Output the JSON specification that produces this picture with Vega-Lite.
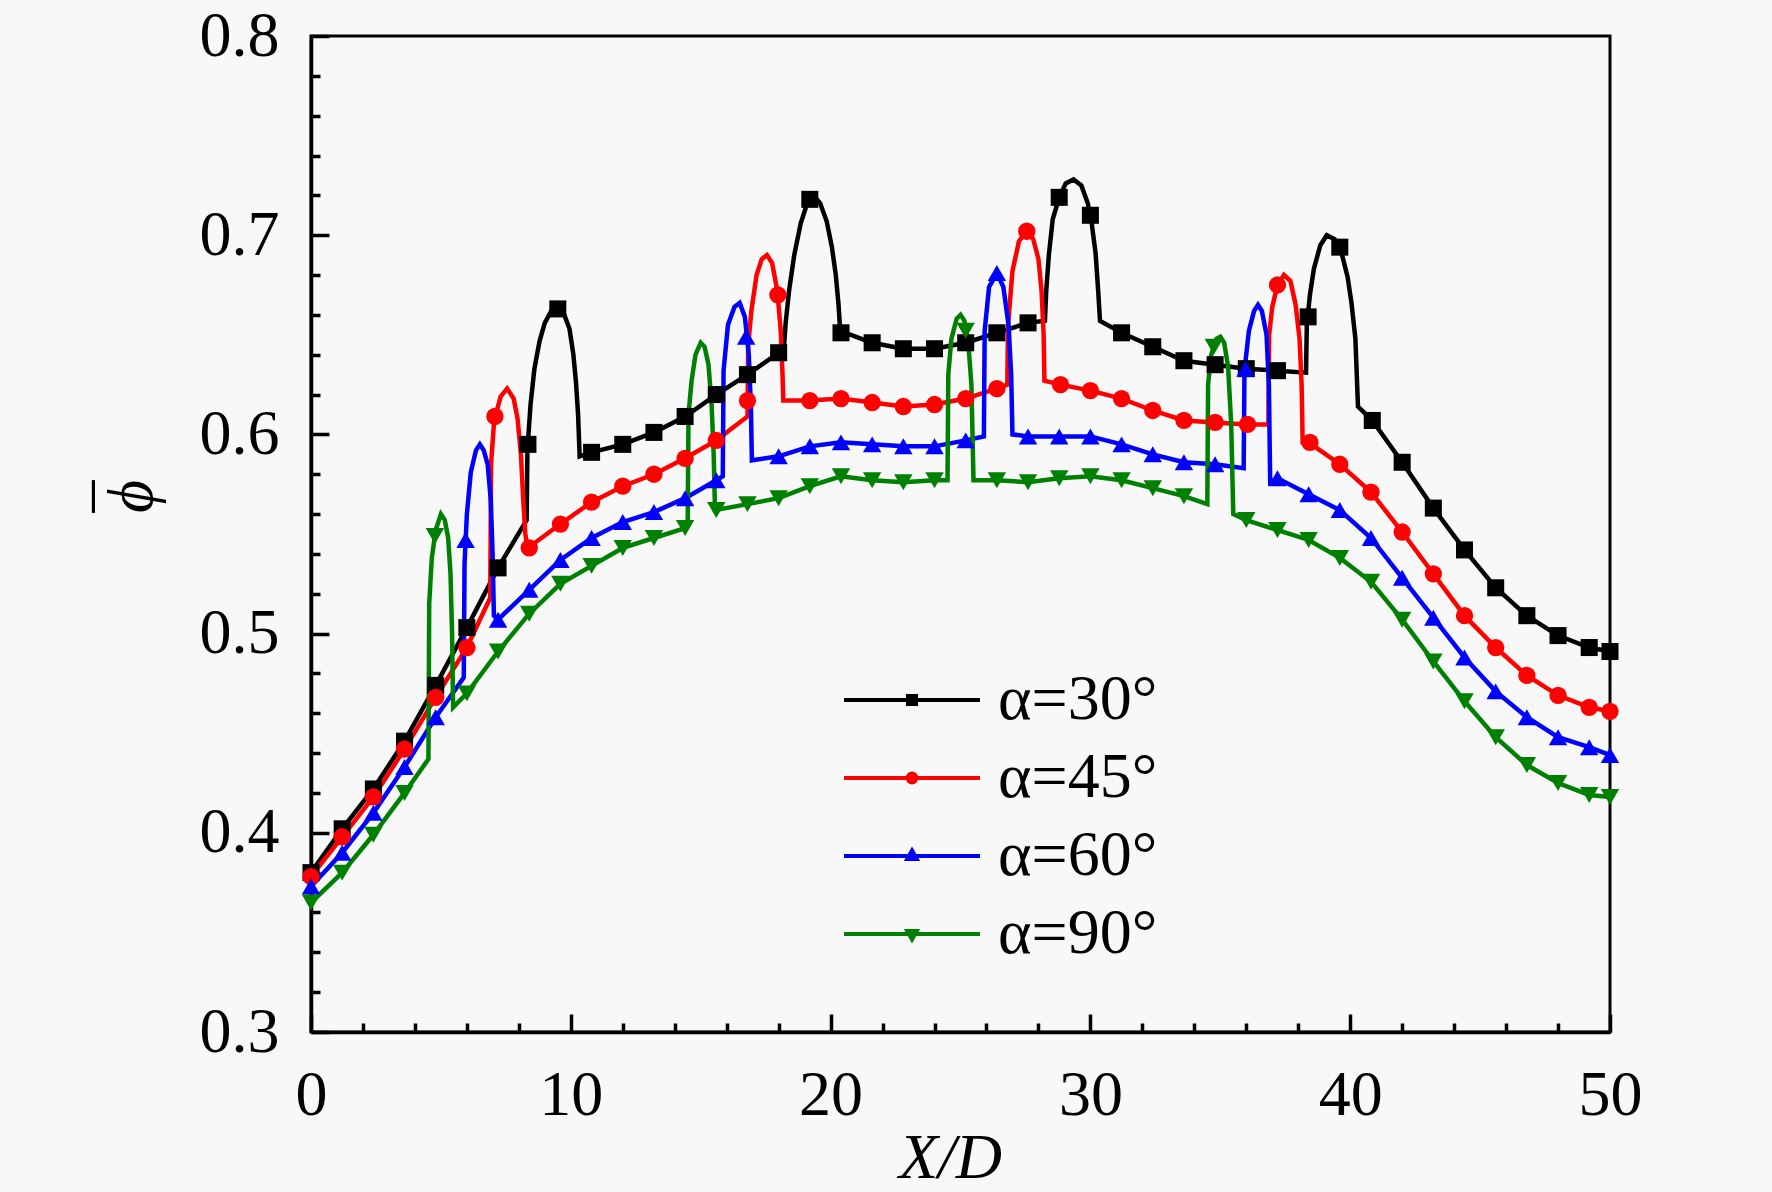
{
  "$schema": "https://vega.github.io/schema/vega-lite/v6.json",
  "width": 1299,
  "height": 996,
  "autosize": {"type": "none"},
  "padding": {"left": 311, "top": 36, "right": 162, "bottom": 160},
  "background": "#f8f8f8",
  "config": {
    "view": {"stroke": "black", "strokeWidth": 3},
    "font": "Liberation Serif"
  },
  "datasets": {
    "lines": [
      {"alpha": "α=30°", "x": 0, "phi": 0.380}, {"alpha": "α=30°", "x": 1.2, "phi": 0.402}, {"alpha": "α=30°", "x": 2.4, "phi": 0.422},
      {"alpha": "α=30°", "x": 3.6, "phi": 0.446}, {"alpha": "α=30°", "x": 4.8, "phi": 0.474}, {"alpha": "α=30°", "x": 6.0, "phi": 0.503},
      {"alpha": "α=30°", "x": 7.2, "phi": 0.533}, {"alpha": "α=30°", "x": 8.3, "phi": 0.557}, {"alpha": "α=30°", "x": 8.33, "phi": 0.592},
      {"alpha": "α=30°", "x": 8.45, "phi": 0.615}, {"alpha": "α=30°", "x": 8.6, "phi": 0.633}, {"alpha": "α=30°", "x": 8.8, "phi": 0.647},
      {"alpha": "α=30°", "x": 9.0, "phi": 0.656}, {"alpha": "α=30°", "x": 9.25, "phi": 0.662}, {"alpha": "α=30°", "x": 9.5, "phi": 0.663},
      {"alpha": "α=30°", "x": 9.75, "phi": 0.660}, {"alpha": "α=30°", "x": 9.95, "phi": 0.653}, {"alpha": "α=30°", "x": 10.1, "phi": 0.640},
      {"alpha": "α=30°", "x": 10.2, "phi": 0.626}, {"alpha": "α=30°", "x": 10.28, "phi": 0.610}, {"alpha": "α=30°", "x": 10.34, "phi": 0.589},
      {"alpha": "α=30°", "x": 10.8, "phi": 0.591}, {"alpha": "α=30°", "x": 12.0, "phi": 0.595}, {"alpha": "α=30°", "x": 13.2, "phi": 0.601},
      {"alpha": "α=30°", "x": 14.4, "phi": 0.609}, {"alpha": "α=30°", "x": 15.6, "phi": 0.620}, {"alpha": "α=30°", "x": 16.8, "phi": 0.630},
      {"alpha": "α=30°", "x": 18.0, "phi": 0.641}, {"alpha": "α=30°", "x": 18.2, "phi": 0.643}, {"alpha": "α=30°", "x": 18.27, "phi": 0.656},
      {"alpha": "α=30°", "x": 18.4, "phi": 0.672}, {"alpha": "α=30°", "x": 18.6, "phi": 0.690}, {"alpha": "α=30°", "x": 18.85, "phi": 0.706},
      {"alpha": "α=30°", "x": 19.1, "phi": 0.716}, {"alpha": "α=30°", "x": 19.35, "phi": 0.720}, {"alpha": "α=30°", "x": 19.6, "phi": 0.716},
      {"alpha": "α=30°", "x": 19.85, "phi": 0.707}, {"alpha": "α=30°", "x": 20.05, "phi": 0.694}, {"alpha": "α=30°", "x": 20.2, "phi": 0.680},
      {"alpha": "α=30°", "x": 20.3, "phi": 0.666}, {"alpha": "α=30°", "x": 20.37, "phi": 0.652}, {"alpha": "α=30°", "x": 21.6, "phi": 0.646},
      {"alpha": "α=30°", "x": 22.8, "phi": 0.643}, {"alpha": "α=30°", "x": 24.0, "phi": 0.643}, {"alpha": "α=30°", "x": 25.2, "phi": 0.646},
      {"alpha": "α=30°", "x": 26.4, "phi": 0.651}, {"alpha": "α=30°", "x": 27.6, "phi": 0.656}, {"alpha": "α=30°", "x": 28.25, "phi": 0.657},
      {"alpha": "α=30°", "x": 28.3, "phi": 0.672}, {"alpha": "α=30°", "x": 28.4, "phi": 0.690}, {"alpha": "α=30°", "x": 28.55, "phi": 0.708},
      {"alpha": "α=30°", "x": 28.8, "phi": 0.719}, {"alpha": "α=30°", "x": 29.05, "phi": 0.726}, {"alpha": "α=30°", "x": 29.35, "phi": 0.728},
      {"alpha": "α=30°", "x": 29.65, "phi": 0.725}, {"alpha": "α=30°", "x": 29.9, "phi": 0.716}, {"alpha": "α=30°", "x": 30.05, "phi": 0.706},
      {"alpha": "α=30°", "x": 30.2, "phi": 0.691}, {"alpha": "α=30°", "x": 30.3, "phi": 0.672}, {"alpha": "α=30°", "x": 30.37, "phi": 0.657},
      {"alpha": "α=30°", "x": 31.2, "phi": 0.651}, {"alpha": "α=30°", "x": 32.4, "phi": 0.644}, {"alpha": "α=30°", "x": 33.6, "phi": 0.637},
      {"alpha": "α=30°", "x": 34.8, "phi": 0.635}, {"alpha": "α=30°", "x": 36.0, "phi": 0.633}, {"alpha": "α=30°", "x": 37.2, "phi": 0.632},
      {"alpha": "α=30°", "x": 38.3, "phi": 0.631}, {"alpha": "α=30°", "x": 38.33, "phi": 0.655}, {"alpha": "α=30°", "x": 38.45, "phi": 0.670},
      {"alpha": "α=30°", "x": 38.6, "phi": 0.683}, {"alpha": "α=30°", "x": 38.85, "phi": 0.695}, {"alpha": "α=30°", "x": 39.1, "phi": 0.700},
      {"alpha": "α=30°", "x": 39.4, "phi": 0.698}, {"alpha": "α=30°", "x": 39.65, "phi": 0.692}, {"alpha": "α=30°", "x": 39.9, "phi": 0.679},
      {"alpha": "α=30°", "x": 40.05, "phi": 0.666}, {"alpha": "α=30°", "x": 40.2, "phi": 0.648}, {"alpha": "α=30°", "x": 40.3, "phi": 0.614},
      {"alpha": "α=30°", "x": 40.85, "phi": 0.607}, {"alpha": "α=30°", "x": 42.0, "phi": 0.586}, {"alpha": "α=30°", "x": 43.2, "phi": 0.563},
      {"alpha": "α=30°", "x": 44.4, "phi": 0.542}, {"alpha": "α=30°", "x": 45.6, "phi": 0.523}, {"alpha": "α=30°", "x": 46.8, "phi": 0.509},
      {"alpha": "α=30°", "x": 48.0, "phi": 0.499}, {"alpha": "α=30°", "x": 49.2, "phi": 0.493}, {"alpha": "α=30°", "x": 50.0, "phi": 0.491},

      {"alpha": "α=45°", "x": 0, "phi": 0.378}, {"alpha": "α=45°", "x": 1.2, "phi": 0.398}, {"alpha": "α=45°", "x": 2.4, "phi": 0.418},
      {"alpha": "α=45°", "x": 3.6, "phi": 0.442}, {"alpha": "α=45°", "x": 4.8, "phi": 0.468}, {"alpha": "α=45°", "x": 6.0, "phi": 0.493},
      {"alpha": "α=45°", "x": 6.9, "phi": 0.518}, {"alpha": "α=45°", "x": 6.93, "phi": 0.585}, {"alpha": "α=45°", "x": 7.05, "phi": 0.607},
      {"alpha": "α=45°", "x": 7.3, "phi": 0.619}, {"alpha": "α=45°", "x": 7.55, "phi": 0.623}, {"alpha": "α=45°", "x": 7.8, "phi": 0.618},
      {"alpha": "α=45°", "x": 7.95, "phi": 0.608}, {"alpha": "α=45°", "x": 8.08, "phi": 0.590}, {"alpha": "α=45°", "x": 8.17, "phi": 0.567},
      {"alpha": "α=45°", "x": 8.25, "phi": 0.550}, {"alpha": "α=45°", "x": 8.35, "phi": 0.542}, {"alpha": "α=45°", "x": 8.45, "phi": 0.544},
      {"alpha": "α=45°", "x": 9.6, "phi": 0.555}, {"alpha": "α=45°", "x": 10.8, "phi": 0.566}, {"alpha": "α=45°", "x": 12.0, "phi": 0.574},
      {"alpha": "α=45°", "x": 13.2, "phi": 0.580}, {"alpha": "α=45°", "x": 14.4, "phi": 0.588}, {"alpha": "α=45°", "x": 15.6, "phi": 0.597},
      {"alpha": "α=45°", "x": 16.8, "phi": 0.609}, {"alpha": "α=45°", "x": 16.83, "phi": 0.645}, {"alpha": "α=45°", "x": 16.95, "phi": 0.662},
      {"alpha": "α=45°", "x": 17.15, "phi": 0.680}, {"alpha": "α=45°", "x": 17.35, "phi": 0.688}, {"alpha": "α=45°", "x": 17.55, "phi": 0.690},
      {"alpha": "α=45°", "x": 17.75, "phi": 0.686}, {"alpha": "α=45°", "x": 17.95, "phi": 0.672}, {"alpha": "α=45°", "x": 18.08, "phi": 0.652},
      {"alpha": "α=45°", "x": 18.15, "phi": 0.630}, {"alpha": "α=45°", "x": 18.18, "phi": 0.617}, {"alpha": "α=45°", "x": 19.2, "phi": 0.617},
      {"alpha": "α=45°", "x": 20.4, "phi": 0.618}, {"alpha": "α=45°", "x": 21.6, "phi": 0.616}, {"alpha": "α=45°", "x": 22.8, "phi": 0.614},
      {"alpha": "α=45°", "x": 24.0, "phi": 0.615}, {"alpha": "α=45°", "x": 25.2, "phi": 0.618}, {"alpha": "α=45°", "x": 26.4, "phi": 0.623},
      {"alpha": "α=45°", "x": 26.8, "phi": 0.625}, {"alpha": "α=45°", "x": 26.83, "phi": 0.655}, {"alpha": "α=45°", "x": 27.0, "phi": 0.682},
      {"alpha": "α=45°", "x": 27.25, "phi": 0.697}, {"alpha": "α=45°", "x": 27.55, "phi": 0.702}, {"alpha": "α=45°", "x": 27.8, "phi": 0.698},
      {"alpha": "α=45°", "x": 28.0, "phi": 0.688}, {"alpha": "α=45°", "x": 28.12, "phi": 0.672}, {"alpha": "α=45°", "x": 28.2, "phi": 0.650},
      {"alpha": "α=45°", "x": 28.23, "phi": 0.627}, {"alpha": "α=45°", "x": 28.85, "phi": 0.625}, {"alpha": "α=45°", "x": 30.0, "phi": 0.622},
      {"alpha": "α=45°", "x": 31.2, "phi": 0.618}, {"alpha": "α=45°", "x": 32.4, "phi": 0.612}, {"alpha": "α=45°", "x": 33.6, "phi": 0.607},
      {"alpha": "α=45°", "x": 34.8, "phi": 0.606}, {"alpha": "α=45°", "x": 36.0, "phi": 0.605}, {"alpha": "α=45°", "x": 36.85, "phi": 0.605},
      {"alpha": "α=45°", "x": 36.88, "phi": 0.650}, {"alpha": "α=45°", "x": 37.0, "phi": 0.664}, {"alpha": "α=45°", "x": 37.2, "phi": 0.675},
      {"alpha": "α=45°", "x": 37.45, "phi": 0.680}, {"alpha": "α=45°", "x": 37.7, "phi": 0.677}, {"alpha": "α=45°", "x": 37.9, "phi": 0.665},
      {"alpha": "α=45°", "x": 38.05, "phi": 0.648}, {"alpha": "α=45°", "x": 38.13, "phi": 0.625}, {"alpha": "α=45°", "x": 38.17, "phi": 0.596},
      {"alpha": "α=45°", "x": 38.4, "phi": 0.596}, {"alpha": "α=45°", "x": 39.6, "phi": 0.585}, {"alpha": "α=45°", "x": 40.8, "phi": 0.571},
      {"alpha": "α=45°", "x": 42.0, "phi": 0.551}, {"alpha": "α=45°", "x": 43.2, "phi": 0.530}, {"alpha": "α=45°", "x": 44.4, "phi": 0.509},
      {"alpha": "α=45°", "x": 45.6, "phi": 0.493}, {"alpha": "α=45°", "x": 46.8, "phi": 0.479}, {"alpha": "α=45°", "x": 48.0, "phi": 0.469},
      {"alpha": "α=45°", "x": 49.2, "phi": 0.463}, {"alpha": "α=45°", "x": 50.0, "phi": 0.461},

      {"alpha": "α=60°", "x": 0, "phi": 0.373}, {"alpha": "α=60°", "x": 1.2, "phi": 0.390}, {"alpha": "α=60°", "x": 2.4, "phi": 0.410},
      {"alpha": "α=60°", "x": 3.6, "phi": 0.433}, {"alpha": "α=60°", "x": 4.8, "phi": 0.458}, {"alpha": "α=60°", "x": 5.88, "phi": 0.478},
      {"alpha": "α=60°", "x": 5.91, "phi": 0.535}, {"alpha": "α=60°", "x": 6.0, "phi": 0.560}, {"alpha": "α=60°", "x": 6.15, "phi": 0.581},
      {"alpha": "α=60°", "x": 6.35, "phi": 0.592}, {"alpha": "α=60°", "x": 6.5, "phi": 0.595}, {"alpha": "α=60°", "x": 6.65, "phi": 0.592},
      {"alpha": "α=60°", "x": 6.8, "phi": 0.585}, {"alpha": "α=60°", "x": 6.92, "phi": 0.567}, {"alpha": "α=60°", "x": 6.99, "phi": 0.540},
      {"alpha": "α=60°", "x": 7.04, "phi": 0.509}, {"alpha": "α=60°", "x": 7.2, "phi": 0.507}, {"alpha": "α=60°", "x": 8.4, "phi": 0.522},
      {"alpha": "α=60°", "x": 9.6, "phi": 0.537}, {"alpha": "α=60°", "x": 10.8, "phi": 0.548}, {"alpha": "α=60°", "x": 12.0, "phi": 0.556},
      {"alpha": "α=60°", "x": 13.2, "phi": 0.561}, {"alpha": "α=60°", "x": 14.4, "phi": 0.568}, {"alpha": "α=60°", "x": 15.6, "phi": 0.577},
      {"alpha": "α=60°", "x": 15.85, "phi": 0.579}, {"alpha": "α=60°", "x": 15.88, "phi": 0.632}, {"alpha": "α=60°", "x": 16.05, "phi": 0.655},
      {"alpha": "α=60°", "x": 16.3, "phi": 0.664}, {"alpha": "α=60°", "x": 16.5, "phi": 0.666}, {"alpha": "α=60°", "x": 16.7, "phi": 0.659},
      {"alpha": "α=60°", "x": 16.85, "phi": 0.640}, {"alpha": "α=60°", "x": 16.93, "phi": 0.615}, {"alpha": "α=60°", "x": 16.97, "phi": 0.587},
      {"alpha": "α=60°", "x": 18.0, "phi": 0.589}, {"alpha": "α=60°", "x": 19.2, "phi": 0.594}, {"alpha": "α=60°", "x": 20.4, "phi": 0.596},
      {"alpha": "α=60°", "x": 21.6, "phi": 0.595}, {"alpha": "α=60°", "x": 22.8, "phi": 0.594}, {"alpha": "α=60°", "x": 24.0, "phi": 0.594},
      {"alpha": "α=60°", "x": 25.2, "phi": 0.597}, {"alpha": "α=60°", "x": 25.9, "phi": 0.599}, {"alpha": "α=60°", "x": 25.93, "phi": 0.652},
      {"alpha": "α=60°", "x": 26.1, "phi": 0.674}, {"alpha": "α=60°", "x": 26.4, "phi": 0.681}, {"alpha": "α=60°", "x": 26.65, "phi": 0.674},
      {"alpha": "α=60°", "x": 26.85, "phi": 0.655}, {"alpha": "α=60°", "x": 26.95, "phi": 0.630}, {"alpha": "α=60°", "x": 27.0, "phi": 0.600},
      {"alpha": "α=60°", "x": 27.6, "phi": 0.599}, {"alpha": "α=60°", "x": 28.8, "phi": 0.599}, {"alpha": "α=60°", "x": 30.0, "phi": 0.599},
      {"alpha": "α=60°", "x": 31.2, "phi": 0.595}, {"alpha": "α=60°", "x": 32.4, "phi": 0.590}, {"alpha": "α=60°", "x": 33.6, "phi": 0.586},
      {"alpha": "α=60°", "x": 34.8, "phi": 0.585}, {"alpha": "α=60°", "x": 35.9, "phi": 0.583}, {"alpha": "α=60°", "x": 35.93, "phi": 0.632},
      {"alpha": "α=60°", "x": 36.1, "phi": 0.652}, {"alpha": "α=60°", "x": 36.3, "phi": 0.662}, {"alpha": "α=60°", "x": 36.45, "phi": 0.665},
      {"alpha": "α=60°", "x": 36.6, "phi": 0.662}, {"alpha": "α=60°", "x": 36.78, "phi": 0.650}, {"alpha": "α=60°", "x": 36.87, "phi": 0.625},
      {"alpha": "α=60°", "x": 36.92, "phi": 0.576}, {"alpha": "α=60°", "x": 37.2, "phi": 0.578}, {"alpha": "α=60°", "x": 38.4, "phi": 0.570},
      {"alpha": "α=60°", "x": 39.6, "phi": 0.562}, {"alpha": "α=60°", "x": 40.8, "phi": 0.548}, {"alpha": "α=60°", "x": 42.0, "phi": 0.528},
      {"alpha": "α=60°", "x": 43.2, "phi": 0.508}, {"alpha": "α=60°", "x": 44.4, "phi": 0.488}, {"alpha": "α=60°", "x": 45.6, "phi": 0.471},
      {"alpha": "α=60°", "x": 46.8, "phi": 0.458}, {"alpha": "α=60°", "x": 48.0, "phi": 0.448}, {"alpha": "α=60°", "x": 49.2, "phi": 0.443},
      {"alpha": "α=60°", "x": 50.0, "phi": 0.439},

      {"alpha": "α=90°", "x": 0, "phi": 0.365}, {"alpha": "α=90°", "x": 1.2, "phi": 0.380}, {"alpha": "α=90°", "x": 2.4, "phi": 0.399},
      {"alpha": "α=90°", "x": 3.6, "phi": 0.420}, {"alpha": "α=90°", "x": 4.52, "phi": 0.437}, {"alpha": "α=90°", "x": 4.55, "phi": 0.515},
      {"alpha": "α=90°", "x": 4.65, "phi": 0.538}, {"alpha": "α=90°", "x": 4.8, "phi": 0.552}, {"alpha": "α=90°", "x": 5.0, "phi": 0.560},
      {"alpha": "α=90°", "x": 5.15, "phi": 0.557}, {"alpha": "α=90°", "x": 5.28, "phi": 0.548}, {"alpha": "α=90°", "x": 5.37, "phi": 0.530},
      {"alpha": "α=90°", "x": 5.43, "phi": 0.500}, {"alpha": "α=90°", "x": 5.47, "phi": 0.463}, {"alpha": "α=90°", "x": 6.0, "phi": 0.470},
      {"alpha": "α=90°", "x": 7.2, "phi": 0.491}, {"alpha": "α=90°", "x": 8.4, "phi": 0.510}, {"alpha": "α=90°", "x": 9.6, "phi": 0.525},
      {"alpha": "α=90°", "x": 10.8, "phi": 0.534}, {"alpha": "α=90°", "x": 12.0, "phi": 0.543}, {"alpha": "α=90°", "x": 13.2, "phi": 0.548},
      {"alpha": "α=90°", "x": 14.4, "phi": 0.553}, {"alpha": "α=90°", "x": 14.5, "phi": 0.555}, {"alpha": "α=90°", "x": 14.53, "phi": 0.610},
      {"alpha": "α=90°", "x": 14.65, "phi": 0.627}, {"alpha": "α=90°", "x": 14.8, "phi": 0.640}, {"alpha": "α=90°", "x": 15.0, "phi": 0.646},
      {"alpha": "α=90°", "x": 15.15, "phi": 0.644}, {"alpha": "α=90°", "x": 15.3, "phi": 0.635}, {"alpha": "α=90°", "x": 15.42, "phi": 0.615},
      {"alpha": "α=90°", "x": 15.5, "phi": 0.590}, {"alpha": "α=90°", "x": 15.55, "phi": 0.562}, {"alpha": "α=90°", "x": 16.8, "phi": 0.565},
      {"alpha": "α=90°", "x": 18.0, "phi": 0.568}, {"alpha": "α=90°", "x": 19.2, "phi": 0.574}, {"alpha": "α=90°", "x": 20.4, "phi": 0.579},
      {"alpha": "α=90°", "x": 21.6, "phi": 0.577}, {"alpha": "α=90°", "x": 22.8, "phi": 0.576}, {"alpha": "α=90°", "x": 24.0, "phi": 0.577},
      {"alpha": "α=90°", "x": 24.5, "phi": 0.577}, {"alpha": "α=90°", "x": 24.53, "phi": 0.630}, {"alpha": "α=90°", "x": 24.65, "phi": 0.648},
      {"alpha": "α=90°", "x": 24.85, "phi": 0.658}, {"alpha": "α=90°", "x": 25.0, "phi": 0.660}, {"alpha": "α=90°", "x": 25.15, "phi": 0.657},
      {"alpha": "α=90°", "x": 25.3, "phi": 0.646}, {"alpha": "α=90°", "x": 25.42, "phi": 0.625}, {"alpha": "α=90°", "x": 25.5, "phi": 0.577},
      {"alpha": "α=90°", "x": 26.4, "phi": 0.577}, {"alpha": "α=90°", "x": 27.6, "phi": 0.576}, {"alpha": "α=90°", "x": 28.8, "phi": 0.578},
      {"alpha": "α=90°", "x": 30.0, "phi": 0.579}, {"alpha": "α=90°", "x": 31.2, "phi": 0.577}, {"alpha": "α=90°", "x": 32.4, "phi": 0.573},
      {"alpha": "α=90°", "x": 33.6, "phi": 0.569}, {"alpha": "α=90°", "x": 34.5, "phi": 0.565}, {"alpha": "α=90°", "x": 34.53, "phi": 0.625},
      {"alpha": "α=90°", "x": 34.65, "phi": 0.640}, {"alpha": "α=90°", "x": 34.85, "phi": 0.648}, {"alpha": "α=90°", "x": 35.0, "phi": 0.649},
      {"alpha": "α=90°", "x": 35.15, "phi": 0.646}, {"alpha": "α=90°", "x": 35.3, "phi": 0.634}, {"alpha": "α=90°", "x": 35.42, "phi": 0.605},
      {"alpha": "α=90°", "x": 35.5, "phi": 0.560}, {"alpha": "α=90°", "x": 36.0, "phi": 0.557}, {"alpha": "α=90°", "x": 37.2, "phi": 0.552},
      {"alpha": "α=90°", "x": 38.4, "phi": 0.547}, {"alpha": "α=90°", "x": 39.6, "phi": 0.538}, {"alpha": "α=90°", "x": 40.8, "phi": 0.526},
      {"alpha": "α=90°", "x": 42.0, "phi": 0.507}, {"alpha": "α=90°", "x": 43.2, "phi": 0.486}, {"alpha": "α=90°", "x": 44.4, "phi": 0.466},
      {"alpha": "α=90°", "x": 45.6, "phi": 0.448}, {"alpha": "α=90°", "x": 46.8, "phi": 0.434}, {"alpha": "α=90°", "x": 48.0, "phi": 0.425},
      {"alpha": "α=90°", "x": 49.2, "phi": 0.419}, {"alpha": "α=90°", "x": 50.0, "phi": 0.418}
    ],
    "markers": [
      {"alpha": "α=30°", "x": 0, "phi": 0.380}, {"alpha": "α=30°", "x": 1.2, "phi": 0.402}, {"alpha": "α=30°", "x": 2.4, "phi": 0.422},
      {"alpha": "α=30°", "x": 3.6, "phi": 0.446}, {"alpha": "α=30°", "x": 4.8, "phi": 0.474}, {"alpha": "α=30°", "x": 6.0, "phi": 0.503},
      {"alpha": "α=30°", "x": 7.2, "phi": 0.533}, {"alpha": "α=30°", "x": 8.35, "phi": 0.595}, {"alpha": "α=30°", "x": 9.5, "phi": 0.663},
      {"alpha": "α=30°", "x": 10.8, "phi": 0.591}, {"alpha": "α=30°", "x": 12.0, "phi": 0.595}, {"alpha": "α=30°", "x": 13.2, "phi": 0.601},
      {"alpha": "α=30°", "x": 14.4, "phi": 0.609}, {"alpha": "α=30°", "x": 15.6, "phi": 0.620}, {"alpha": "α=30°", "x": 16.8, "phi": 0.630},
      {"alpha": "α=30°", "x": 18.0, "phi": 0.641}, {"alpha": "α=30°", "x": 19.2, "phi": 0.718}, {"alpha": "α=30°", "x": 20.4, "phi": 0.651},
      {"alpha": "α=30°", "x": 21.6, "phi": 0.646}, {"alpha": "α=30°", "x": 22.8, "phi": 0.643}, {"alpha": "α=30°", "x": 24.0, "phi": 0.643},
      {"alpha": "α=30°", "x": 25.2, "phi": 0.646}, {"alpha": "α=30°", "x": 26.4, "phi": 0.651}, {"alpha": "α=30°", "x": 27.6, "phi": 0.656},
      {"alpha": "α=30°", "x": 28.8, "phi": 0.719}, {"alpha": "α=30°", "x": 30.0, "phi": 0.710}, {"alpha": "α=30°", "x": 31.2, "phi": 0.651},
      {"alpha": "α=30°", "x": 32.4, "phi": 0.644}, {"alpha": "α=30°", "x": 33.6, "phi": 0.637}, {"alpha": "α=30°", "x": 34.8, "phi": 0.635},
      {"alpha": "α=30°", "x": 36.0, "phi": 0.633}, {"alpha": "α=30°", "x": 37.2, "phi": 0.632}, {"alpha": "α=30°", "x": 38.38, "phi": 0.659},
      {"alpha": "α=30°", "x": 39.6, "phi": 0.694}, {"alpha": "α=30°", "x": 40.85, "phi": 0.607}, {"alpha": "α=30°", "x": 42.0, "phi": 0.586},
      {"alpha": "α=30°", "x": 43.2, "phi": 0.563}, {"alpha": "α=30°", "x": 44.4, "phi": 0.542}, {"alpha": "α=30°", "x": 45.6, "phi": 0.523},
      {"alpha": "α=30°", "x": 46.8, "phi": 0.509}, {"alpha": "α=30°", "x": 48.0, "phi": 0.499}, {"alpha": "α=30°", "x": 49.2, "phi": 0.493},
      {"alpha": "α=30°", "x": 50.0, "phi": 0.491},

      {"alpha": "α=45°", "x": 0, "phi": 0.378}, {"alpha": "α=45°", "x": 1.2, "phi": 0.398}, {"alpha": "α=45°", "x": 2.4, "phi": 0.418},
      {"alpha": "α=45°", "x": 3.6, "phi": 0.442}, {"alpha": "α=45°", "x": 4.8, "phi": 0.468}, {"alpha": "α=45°", "x": 6.0, "phi": 0.493},
      {"alpha": "α=45°", "x": 7.08, "phi": 0.609}, {"alpha": "α=45°", "x": 8.4, "phi": 0.543}, {"alpha": "α=45°", "x": 9.6, "phi": 0.555},
      {"alpha": "α=45°", "x": 10.8, "phi": 0.566}, {"alpha": "α=45°", "x": 12.0, "phi": 0.574}, {"alpha": "α=45°", "x": 13.2, "phi": 0.580},
      {"alpha": "α=45°", "x": 14.4, "phi": 0.588}, {"alpha": "α=45°", "x": 15.6, "phi": 0.597}, {"alpha": "α=45°", "x": 16.8, "phi": 0.617},
      {"alpha": "α=45°", "x": 17.97, "phi": 0.670}, {"alpha": "α=45°", "x": 19.2, "phi": 0.617}, {"alpha": "α=45°", "x": 20.4, "phi": 0.618},
      {"alpha": "α=45°", "x": 21.6, "phi": 0.616}, {"alpha": "α=45°", "x": 22.8, "phi": 0.614}, {"alpha": "α=45°", "x": 24.0, "phi": 0.615},
      {"alpha": "α=45°", "x": 25.2, "phi": 0.618}, {"alpha": "α=45°", "x": 26.4, "phi": 0.623}, {"alpha": "α=45°", "x": 27.55, "phi": 0.702},
      {"alpha": "α=45°", "x": 28.85, "phi": 0.625}, {"alpha": "α=45°", "x": 30.0, "phi": 0.622}, {"alpha": "α=45°", "x": 31.2, "phi": 0.618},
      {"alpha": "α=45°", "x": 32.4, "phi": 0.612}, {"alpha": "α=45°", "x": 33.6, "phi": 0.607}, {"alpha": "α=45°", "x": 34.8, "phi": 0.606},
      {"alpha": "α=45°", "x": 36.05, "phi": 0.605}, {"alpha": "α=45°", "x": 37.2, "phi": 0.675}, {"alpha": "α=45°", "x": 38.45, "phi": 0.596},
      {"alpha": "α=45°", "x": 39.6, "phi": 0.585}, {"alpha": "α=45°", "x": 40.8, "phi": 0.571}, {"alpha": "α=45°", "x": 42.0, "phi": 0.551},
      {"alpha": "α=45°", "x": 43.2, "phi": 0.530}, {"alpha": "α=45°", "x": 44.4, "phi": 0.509}, {"alpha": "α=45°", "x": 45.6, "phi": 0.493},
      {"alpha": "α=45°", "x": 46.8, "phi": 0.479}, {"alpha": "α=45°", "x": 48.0, "phi": 0.469}, {"alpha": "α=45°", "x": 49.2, "phi": 0.463},
      {"alpha": "α=45°", "x": 50.0, "phi": 0.461},

      {"alpha": "α=60°", "x": 0, "phi": 0.373}, {"alpha": "α=60°", "x": 1.2, "phi": 0.390}, {"alpha": "α=60°", "x": 2.4, "phi": 0.410},
      {"alpha": "α=60°", "x": 3.6, "phi": 0.433}, {"alpha": "α=60°", "x": 4.8, "phi": 0.458}, {"alpha": "α=60°", "x": 5.95, "phi": 0.547},
      {"alpha": "α=60°", "x": 7.2, "phi": 0.507}, {"alpha": "α=60°", "x": 8.4, "phi": 0.522}, {"alpha": "α=60°", "x": 9.6, "phi": 0.537},
      {"alpha": "α=60°", "x": 10.8, "phi": 0.548}, {"alpha": "α=60°", "x": 12.0, "phi": 0.556}, {"alpha": "α=60°", "x": 13.2, "phi": 0.561},
      {"alpha": "α=60°", "x": 14.4, "phi": 0.568}, {"alpha": "α=60°", "x": 15.6, "phi": 0.577}, {"alpha": "α=60°", "x": 16.75, "phi": 0.649},
      {"alpha": "α=60°", "x": 18.0, "phi": 0.589}, {"alpha": "α=60°", "x": 19.2, "phi": 0.594}, {"alpha": "α=60°", "x": 20.4, "phi": 0.596},
      {"alpha": "α=60°", "x": 21.6, "phi": 0.595}, {"alpha": "α=60°", "x": 22.8, "phi": 0.594}, {"alpha": "α=60°", "x": 24.0, "phi": 0.594},
      {"alpha": "α=60°", "x": 25.2, "phi": 0.597}, {"alpha": "α=60°", "x": 26.4, "phi": 0.681}, {"alpha": "α=60°", "x": 27.6, "phi": 0.599},
      {"alpha": "α=60°", "x": 28.8, "phi": 0.599}, {"alpha": "α=60°", "x": 30.0, "phi": 0.599}, {"alpha": "α=60°", "x": 31.2, "phi": 0.595},
      {"alpha": "α=60°", "x": 32.4, "phi": 0.590}, {"alpha": "α=60°", "x": 33.6, "phi": 0.586}, {"alpha": "α=60°", "x": 34.8, "phi": 0.585},
      {"alpha": "α=60°", "x": 35.97, "phi": 0.633}, {"alpha": "α=60°", "x": 37.2, "phi": 0.578}, {"alpha": "α=60°", "x": 38.4, "phi": 0.570},
      {"alpha": "α=60°", "x": 39.6, "phi": 0.562}, {"alpha": "α=60°", "x": 40.8, "phi": 0.548}, {"alpha": "α=60°", "x": 42.0, "phi": 0.528},
      {"alpha": "α=60°", "x": 43.2, "phi": 0.508}, {"alpha": "α=60°", "x": 44.4, "phi": 0.488}, {"alpha": "α=60°", "x": 45.6, "phi": 0.471},
      {"alpha": "α=60°", "x": 46.8, "phi": 0.458}, {"alpha": "α=60°", "x": 48.0, "phi": 0.448}, {"alpha": "α=60°", "x": 49.2, "phi": 0.443},
      {"alpha": "α=60°", "x": 50.0, "phi": 0.439},

      {"alpha": "α=90°", "x": 0, "phi": 0.365}, {"alpha": "α=90°", "x": 1.2, "phi": 0.380}, {"alpha": "α=90°", "x": 2.4, "phi": 0.399},
      {"alpha": "α=90°", "x": 3.6, "phi": 0.420}, {"alpha": "α=90°", "x": 4.77, "phi": 0.549}, {"alpha": "α=90°", "x": 6.0, "phi": 0.470},
      {"alpha": "α=90°", "x": 7.2, "phi": 0.491}, {"alpha": "α=90°", "x": 8.4, "phi": 0.510}, {"alpha": "α=90°", "x": 9.6, "phi": 0.525},
      {"alpha": "α=90°", "x": 10.8, "phi": 0.534}, {"alpha": "α=90°", "x": 12.0, "phi": 0.543}, {"alpha": "α=90°", "x": 13.2, "phi": 0.548},
      {"alpha": "α=90°", "x": 14.4, "phi": 0.553}, {"alpha": "α=90°", "x": 15.6, "phi": 0.562}, {"alpha": "α=90°", "x": 16.8, "phi": 0.565},
      {"alpha": "α=90°", "x": 18.0, "phi": 0.568}, {"alpha": "α=90°", "x": 19.2, "phi": 0.574}, {"alpha": "α=90°", "x": 20.4, "phi": 0.579},
      {"alpha": "α=90°", "x": 21.6, "phi": 0.577}, {"alpha": "α=90°", "x": 22.8, "phi": 0.576}, {"alpha": "α=90°", "x": 24.0, "phi": 0.577},
      {"alpha": "α=90°", "x": 25.2, "phi": 0.652}, {"alpha": "α=90°", "x": 26.4, "phi": 0.577}, {"alpha": "α=90°", "x": 27.6, "phi": 0.576},
      {"alpha": "α=90°", "x": 28.8, "phi": 0.578}, {"alpha": "α=90°", "x": 30.0, "phi": 0.579}, {"alpha": "α=90°", "x": 31.2, "phi": 0.577},
      {"alpha": "α=90°", "x": 32.4, "phi": 0.573}, {"alpha": "α=90°", "x": 33.6, "phi": 0.569}, {"alpha": "α=90°", "x": 34.75, "phi": 0.644},
      {"alpha": "α=90°", "x": 36.0, "phi": 0.557}, {"alpha": "α=90°", "x": 37.2, "phi": 0.552}, {"alpha": "α=90°", "x": 38.4, "phi": 0.547},
      {"alpha": "α=90°", "x": 39.6, "phi": 0.538}, {"alpha": "α=90°", "x": 40.8, "phi": 0.526}, {"alpha": "α=90°", "x": 42.0, "phi": 0.507},
      {"alpha": "α=90°", "x": 43.2, "phi": 0.486}, {"alpha": "α=90°", "x": 44.4, "phi": 0.466}, {"alpha": "α=90°", "x": 45.6, "phi": 0.448},
      {"alpha": "α=90°", "x": 46.8, "phi": 0.434}, {"alpha": "α=90°", "x": 48.0, "phi": 0.425}, {"alpha": "α=90°", "x": 49.2, "phi": 0.419},
      {"alpha": "α=90°", "x": 50.0, "phi": 0.418}
    ]
  },
  "layer": [
    {
      "data": {"name": "lines"},
      "mark": {"type": "line", "strokeWidth": 4.5},
      "encoding": {
        "x": {
          "field": "x", "type": "quantitative",
          "scale": {"domain": [0, 50], "nice": false, "zero": false},
          "axis": {
            "orient": "bottom", "values": [0, 10, 20, 30, 40, 50], "grid": false,
            "domainColor": "black", "domainWidth": 3.5,
            "tickColor": "black", "tickWidth": 3.5, "tickSize": -18,
            "labelFont": "Liberation Serif", "labelFontSize": 64, "labelColor": "black",
            "labelPadding": 49, "labelFlush": false, "labelOverlap": false,
            "title": "X/D", "titleFont": "Liberation Serif", "titleFontSize": 64,
            "titleFontStyle": "italic", "titleFontWeight": "normal", "titleColor": "black",
            "titleX": 639, "titleY": 145, "titleBaseline": "alphabetic", "titleAlign": "center"
          }
        },
        "y": {
          "field": "phi", "type": "quantitative",
          "scale": {"domain": [0.3, 0.8], "nice": false, "zero": false},
          "axis": {
            "orient": "left", "values": [0.3, 0.4, 0.5, 0.6, 0.7, 0.8], "format": ".1f", "grid": false,
            "domainColor": "black", "domainWidth": 3.5,
            "tickColor": "black", "tickWidth": 3.5, "tickSize": -18,
            "labelFont": "Liberation Serif", "labelFontSize": 64, "labelColor": "black",
            "labelPadding": 50, "labelFlush": false, "labelOverlap": false,
            "title": ["–", "ϕ"], "titleFont": "Liberation Serif", "titleFontSize": 64,
            "titleFontStyle": "italic", "titleFontWeight": "normal", "titleColor": "black",
            "titleLineHeight": 44,
            "titleX": -204, "titleY": 460, "titleBaseline": "alphabetic", "titleAlign": "center"
          }
        },
        "color": {
          "field": "alpha", "type": "nominal",
          "scale": {"domain": ["α=30°", "α=45°", "α=60°", "α=90°"], "range": ["#000000", "#ff0000", "#0000ff", "#008000"]},
          "legend": {
            "orient": "none", "legendX": 531, "legendY": 634, "title": null,
            "padding": 0, "offset": 0,
            "labelFont": "Liberation Serif", "labelFontSize": 64, "labelColor": "black", "labelLimit": 500,
            "labelOffset": 16, "symbolSize": 18496, "symbolStrokeWidth": 4,
            "clipHeight": 60, "rowPadding": 14,
            "encode": {
              "symbols": {
                "update": {
                  "shape": {"signal": "datum.value === 'α=30°' ? 'M-1,0L1,0M-0.06,-0.06L0.06,-0.06L0.06,0.06L-0.06,0.06Z' : datum.value === 'α=45°' ? 'M-1,0L1,0M0.065,0A0.065,0.065,0,1,1,-0.065,0A0.065,0.065,0,1,1,0.065,0Z' : datum.value === 'α=60°' ? 'M-1,0L1,0M0,-0.08L0.07,0.045L-0.07,0.045Z' : 'M-1,0L1,0M0,0.08L0.07,-0.045L-0.07,-0.045Z'"},
                  "fill": {"scale": "color", "field": "value"},
                  "stroke": {"scale": "color", "field": "value"},
                  "strokeWidth": {"value": 4},
                  "opacity": {"value": 1}
                }
              }
            }
          }
        }
      }
    },
    {
      "data": {"name": "markers"},
      "transform": [{"filter": "datum.alpha === 'α=30°'"}],
      "mark": {"type": "point", "shape": "square", "filled": true, "opacity": 1, "size": 290},
      "encoding": {
        "x": {
          "field": "x", "type": "quantitative",
          "axis": {
            "orient": "bottom", "values": [2, 4, 6, 8, 12, 14, 16, 18, 22, 24, 26, 28, 32, 34, 36, 38, 42, 44, 46, 48],
            "grid": false, "domain": false, "labels": false, "title": null,
            "tickColor": "black", "tickWidth": 3.5, "tickSize": -9
          }
        },
        "y": {
          "field": "phi", "type": "quantitative",
          "axis": {
            "orient": "left", "values": [0.32, 0.34, 0.36, 0.38, 0.42, 0.44, 0.46, 0.48, 0.52, 0.54, 0.56, 0.58, 0.62, 0.64, 0.66, 0.68, 0.72, 0.74, 0.76, 0.78],
            "grid": false, "domain": false, "labels": false, "title": null,
            "tickColor": "black", "tickWidth": 3.5, "tickSize": -9
          }
        },
        "color": {"field": "alpha", "type": "nominal", "legend": null}
      }
    },
    {
      "data": {"name": "markers"},
      "transform": [{"filter": "datum.alpha === 'α=45°'"}],
      "mark": {"type": "point", "shape": "circle", "filled": true, "opacity": 1, "size": 300},
      "encoding": {
        "x": {"field": "x", "type": "quantitative", "axis": null},
        "y": {"field": "phi", "type": "quantitative", "axis": null},
        "color": {"field": "alpha", "type": "nominal", "legend": null}
      }
    },
    {
      "data": {"name": "markers"},
      "transform": [{"filter": "datum.alpha === 'α=60°'"}],
      "mark": {"type": "point", "shape": "triangle-up", "filled": true, "opacity": 1, "size": 340},
      "encoding": {
        "x": {"field": "x", "type": "quantitative", "axis": null},
        "y": {"field": "phi", "type": "quantitative", "axis": null},
        "color": {"field": "alpha", "type": "nominal", "legend": null}
      }
    },
    {
      "data": {"name": "markers"},
      "transform": [{"filter": "datum.alpha === 'α=90°'"}],
      "mark": {"type": "point", "shape": "triangle-down", "filled": true, "opacity": 1, "size": 340},
      "encoding": {
        "x": {"field": "x", "type": "quantitative", "axis": null},
        "y": {"field": "phi", "type": "quantitative", "axis": null},
        "color": {"field": "alpha", "type": "nominal", "legend": null}
      }
    }
  ],
  "resolve": {"axis": {"x": "independent", "y": "independent"}}
}
